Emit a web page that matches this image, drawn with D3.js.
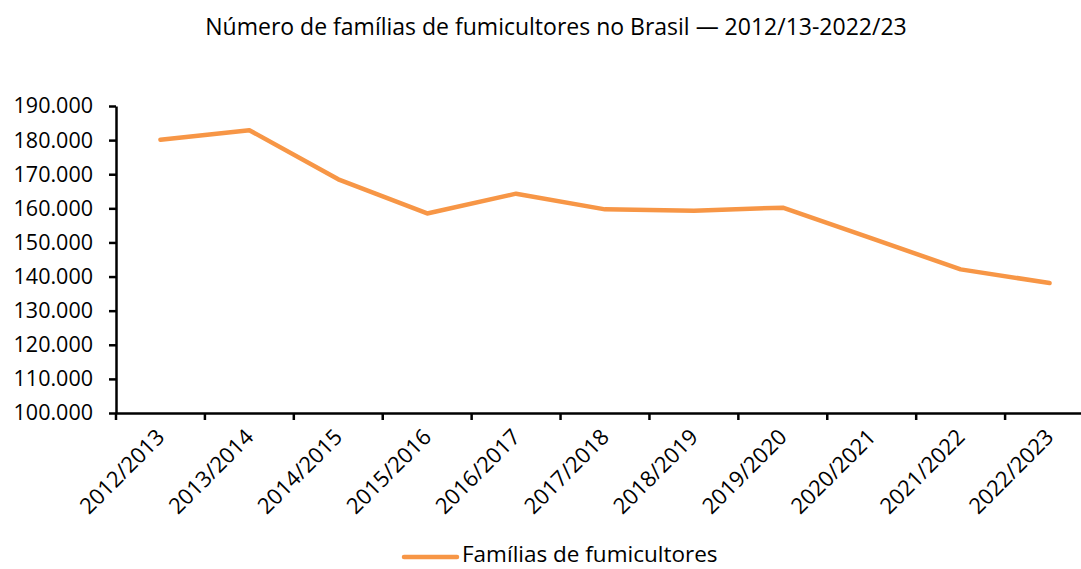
<!DOCTYPE html>
<html>
<head>
<meta charset="utf-8">
<script src="https://cdn.jsdelivr.net/npm/d3@7"></script>
<style>
  body { margin: 0; background: #fff; }
  text { font-family: "Open Sans", "Noto Sans", sans-serif; fill: #000; }
</style>
</head>
<body>
<div id="chart"></div>
<script>
// data
var safras = ["2012/2013", "2013/2014", "2014/2015", "2015/2016", "2016/2017", "2017/2018",
  "2018/2019", "2019/2020", "2020/2021", "2021/2022", "2022/2023"];
var familias = [180100, 182900, 168500, 158500, 164300, 159700, 159300, 160200, 151200, 142100, 138100];
var yTicks = [100000, 110000, 120000, 130000, 140000, 150000, 160000, 170000, 180000, 190000];

var svgWidth = 1081;
var svgHeight = 569;

var margin = { top: 106, right: -13, bottom: 156, left: 116 };
var width = svgWidth - margin.left - margin.right;
var height = svgHeight - margin.top - margin.bottom;

var svg = d3.select("#chart")
  .append("svg")
  .attr("width", svgWidth)
  .attr("height", svgHeight);

var chartGroup = svg.append("g")
  .attr("transform", `translate(${margin.left}, ${margin.top})`);

var xScale = d3.scaleBand()
  .domain(safras)
  .range([0, width]);

var yScale = d3.scaleLinear()
  .domain([100000, 190000])
  .range([height, 0]);

var fmt = d3.format(",.0f");
var ptFormat = v => fmt(v).replace(/,/g, ".");

// axes
var xAxis = chartGroup.append("g")
  .attr("transform", `translate(0, ${height})`)
  .call(d3.axisBottom(xScale).tickSize(7).tickSizeOuter(0));

// ticks sit between the categories
xAxis.selectAll(".tick line")
  .attr("x1", -xScale.bandwidth() / 2)
  .attr("x2", -xScale.bandwidth() / 2);

xAxis.selectAll(".tick text")
  .style("font-size", "22px")
  .attr("text-anchor", "end")
  .attr("transform", "translate(0, 20) rotate(-45)")
  .attr("dy", "0.35em")
  .attr("y", 0);

var yAxis = chartGroup.append("g")
  .call(d3.axisLeft(yScale).tickValues(yTicks).tickFormat(ptFormat).tickSize(7).tickPadding(16).tickSizeOuter(0));

yAxis.selectAll(".tick text")
  .style("font-size", "21.5px");

svg.selectAll(".domain, .tick line")
  .attr("stroke", "#000")
  .attr("stroke-width", 2.5);

// line
var line = d3.line()
  .x((d, i) => xScale(safras[i]) + xScale.bandwidth() / 2)
  .y(d => yScale(d));

chartGroup.append("path")
  .datum(familias)
  .attr("d", line)
  .attr("fill", "none")
  .attr("stroke", "#F79646")
  .attr("stroke-width", 4.5)
  .attr("stroke-linecap", "round")
  .attr("stroke-linejoin", "round");

// title
svg.append("text")
  .attr("x", 556)
  .attr("y", 35)
  .attr("text-anchor", "middle")
  .style("font-size", "23px")
  .text("Número de famílias de fumicultores no Brasil — 2012/13-2022/23");

// legend
var legend = svg.append("g")
  .attr("transform", "translate(402, 557)");

legend.append("line")
  .attr("x1", 2)
  .attr("x2", 55)
  .attr("y1", 0)
  .attr("y2", 0)
  .attr("stroke", "#F79646")
  .attr("stroke-width", 4.5)
  .attr("stroke-linecap", "round");

legend.append("text")
  .attr("x", 60)
  .attr("y", 5)
  .style("font-size", "22.5px")
  .text("Famílias de fumicultores");
</script>
</body>
</html>
